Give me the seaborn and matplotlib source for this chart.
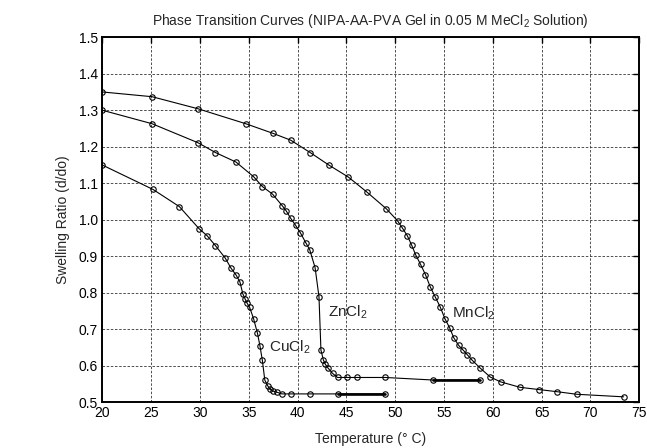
import numpy as np
import pandas as pd
import matplotlib
matplotlib.use("Agg")
import matplotlib.pyplot as plt
import seaborn as sns
from matplotlib.ticker import MultipleLocator, FormatStrFormatter

# swelling ratio
cu_temp = [20.0, 25.2, 27.9, 29.9, 30.75, 31.6, 32.6, 33.2, 33.7, 34.1, 34.4, 34.65,
           34.85, 35.1, 35.5, 35.9, 36.15, 36.4, 36.65, 36.95, 37.2, 37.45, 37.85,
           38.4, 39.35, 41.25, 44.1, 49.0]
cu_ratio = [1.150, 1.083, 1.036, 0.976, 0.956, 0.929, 0.895, 0.867, 0.849, 0.830, 0.797,
            0.782, 0.771, 0.760, 0.729, 0.689, 0.655, 0.615, 0.561, 0.545, 0.536, 0.531,
            0.528, 0.523, 0.523, 0.523, 0.523, 0.523]

zn_temp = [20.0, 25.1, 29.8, 31.6, 33.7, 35.5, 36.4, 37.45, 38.45, 38.85, 39.3, 39.8,
           40.3, 40.85, 41.25, 41.8, 42.2, 42.4, 42.65, 42.85, 43.15, 43.6, 44.1, 45.1,
           46.1, 49.0, 53.9, 58.7]
zn_ratio = [1.300, 1.263, 1.211, 1.184, 1.158, 1.118, 1.091, 1.070, 1.038, 1.024, 1.004,
            0.985, 0.964, 0.937, 0.918, 0.869, 0.789, 0.643, 0.616, 0.604, 0.593, 0.579,
            0.568, 0.568, 0.568, 0.568, 0.561, 0.561]

mn_temp = [20.0, 25.1, 29.8, 34.7, 37.45, 39.3, 41.3, 43.2, 45.2, 47.1, 49.1, 50.25,
           50.75, 51.25, 51.7, 52.1, 52.6, 53.1, 53.6, 54.1, 54.6, 55.1, 55.6, 56.0,
           56.5, 57.0, 57.4, 57.9, 58.7, 59.75, 60.8, 62.8, 64.7, 66.6, 68.6, 73.4]
mn_ratio = [1.350, 1.337, 1.304, 1.263, 1.237, 1.218, 1.184, 1.150, 1.117, 1.076, 1.030,
            0.997, 0.977, 0.956, 0.930, 0.904, 0.878, 0.850, 0.816, 0.789, 0.762, 0.729,
            0.703, 0.677, 0.656, 0.642, 0.630, 0.615, 0.594, 0.569, 0.556, 0.541, 0.535,
            0.529, 0.522, 0.515]

salts = ["CuCl$_2$", "ZnCl$_2$", "MnCl$_2$"]
label_pos = [(37.05, 0.651), (43.1, 0.747), (55.85, 0.745)]

sns.set_style("white")
plt.rcParams["font.family"] = ["Liberation Sans", "DejaVu Sans"]
plt.rcParams["mathtext.fontset"] = "custom"
plt.rcParams["mathtext.rm"] = "Liberation Sans"
plt.rcParams["mathtext.it"] = "Liberation Sans"

frames = []
for name, t, r in zip(salts, [cu_temp, zn_temp, mn_temp], [cu_ratio, zn_ratio, mn_ratio]):
    frames.append(pd.DataFrame({"temp": t, "ratio": r, "salt": name}))
df = pd.concat(frames, ignore_index=True)

fig = plt.figure(figsize=(6.47, 4.48), dpi=100)
ax = fig.add_axes([0.158, 0.102, 0.830, 0.815])

sns.lineplot(data=df, x="temp", y="ratio", units="salt", estimator=None, sort=False,
             color="black", lw=0.8, marker="o", markersize=3.9, markerfacecolor="none",
             markeredgecolor="black", markeredgewidth=0.8, ax=ax)

# the last flat bit of CuCl2 and ZnCl2 is drawn heavier in the original
for t, r in [(cu_temp, cu_ratio), (zn_temp, zn_ratio)]:
    sns.lineplot(x=t[-2:], y=r[-2:], color="black", lw=1.9, ax=ax)

for name, (tx, ty) in zip(salts, label_pos):
    ax.text(tx, ty, name, fontsize=11, ha="left", va="center")

ax.set_xlim(20, 75)
ax.set_ylim(0.5, 1.5)
ax.xaxis.set_major_locator(MultipleLocator(5))
ax.yaxis.set_major_locator(MultipleLocator(0.1))
ax.yaxis.set_major_formatter(FormatStrFormatter("%.1f"))
ax.tick_params(direction="in", top=True, right=True, length=4, width=1.0,
               labelsize=10, pad=3, colors="black")
ax.grid(True, color="#333333", linestyle=(0, (3, 2)), linewidth=0.6)
for s in ax.spines.values():
    s.set_linewidth(1.4)
    s.set_color("black")

ax.set_xlabel("Temperature (° C)", fontsize=10, labelpad=8)
ax.set_ylabel("Swelling Ratio (d/do)", fontsize=10, labelpad=6)
ax.set_title("Phase Transition Curves (NIPA-AA-PVA Gel in 0.05 M MeCl$_2$ Solution)",
             fontsize=10, pad=9)

fig.savefig("out.png", dpi=100)
